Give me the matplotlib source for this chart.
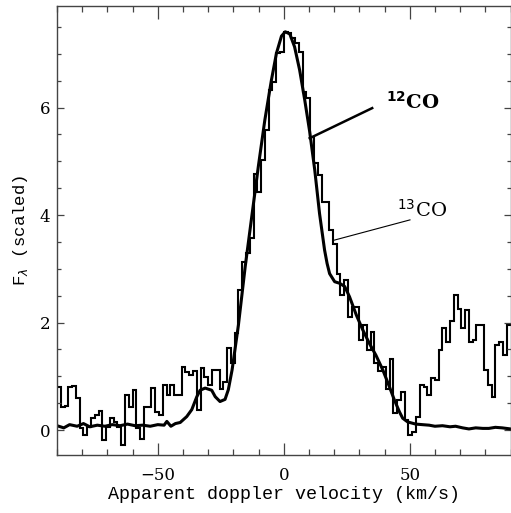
import numpy as np
import matplotlib
matplotlib.use('Agg')
import matplotlib.pyplot as plt
from matplotlib.ticker import MultipleLocator

# 13CO spectrum, histogram bins of 1.5 km/s from -90 to 90
bin_edges = np.arange(-90.0, 90.01, 1.5)
co13 = [0.80, 0.43, 0.45, 0.80, 0.82, 0.60, 0.03, -0.09, 0.06, 0.22,
        0.28, 0.35, -0.19, 0.06, 0.22, 0.15, 0.06, -0.28, 0.65, 0.43,
        0.74, 0.03, -0.16, 0.43, 0.43, 0.79, 0.34, 0.28, 0.83, 0.65,
        0.83, 0.65, 0.65, 1.17, 1.08, 1.02, 1.10, 0.37, 1.15, 0.99,
        0.83, 1.11,
        1.12, 0.77, 0.90, 1.52, 1.24, 1.80, 2.60, 3.13,
        3.29, 3.57, 4.77, 4.43, 5.02, 5.58, 6.32, 6.48, 7.01, 7.04,
        7.41, 7.38, 7.29, 7.20, 7.04, 6.29, 6.17, 5.46, 4.96, 4.74,
        4.24, 4.24, 3.72, 3.47, 2.90, 2.51, 2.80, 2.11, 2.29, 2.29,
        1.67, 1.95, 1.49, 1.83, 1.24, 1.09, 1.18, 0.77, 1.33, 0.31,
        0.56, 0.71, 0.18, -0.09, -0.03, 0.25, 0.83, 0.80, 0.65, 0.96,
        0.93, 1.49, 1.89, 1.64, 2.02, 2.51, 2.26, 1.89, 2.23, 1.64,
        1.67, 1.95, 1.95, 1.12, 0.83, 0.61, 1.58, 1.64, 1.40, 1.95]

# 12CO profile (smooth)
v12 = [-90, -87.3, -85, -82, -79.5, -77, -74, -71, -68, -65, -62, -59, -56, -53,
       -50, -47.5, -46.4, -44.8, -43, -41.1, -38.5, -36.5, -34.5, -33.2, -31.2,
       -28.6, -27.2, -25.3, -23.3, -22.0, -20.5, -18.0, -15.3, -12.7, -10.1,
       -7.5, -4.9, -2.9, -0.9, 0.6, 2.4, 4.3, 6.3, 8.3, 10.3, 12.3, 14.2, 16.2,
       17.2, 18.2, 20.2, 22.2, 24.2, 26.1, 28.8, 31.4, 34.0, 36.6, 39.3, 41.9,
       43.9, 45.9, 47.2, 49.2, 52.4, 55, 57.7, 60, 63.0, 66, 68.2, 71, 73.5,
       76.2, 79, 81.4, 84, 86.7, 90]
f12 = [0.08, 0.04, 0.10, 0.07, 0.12, 0.06, 0.09, 0.07, 0.10, 0.08, 0.11, 0.08, 0.09, 0.07,
       0.10, 0.09, 0.16, 0.07, 0.12, 0.14, 0.25, 0.38, 0.62, 0.74, 0.78,
       0.74, 0.62, 0.53, 0.57, 0.75, 1.12, 1.95, 3.04, 3.97, 4.90,
       5.77, 6.51, 7.01, 7.33, 7.41, 7.37, 7.13, 6.70, 6.15, 5.55, 4.84, 4.03, 3.35,
       3.10, 2.91, 2.76, 2.73, 2.67, 2.48, 2.14, 1.86, 1.61, 1.39, 1.12, 0.81,
       0.56, 0.34, 0.22, 0.15, 0.11, 0.10, 0.09, 0.07, 0.08, 0.06, 0.07, 0.04, 0.02,
       0.04, 0.03, 0.03, 0.05, 0.04, 0.02]

plt.rcParams['font.family'] = ['DejaVu Serif']

fig = plt.figure(figsize=(5.11, 5.13), dpi=100)
ax = fig.add_axes([57 / 511, 58 / 513, 453.5 / 511, 449 / 513])

ax.stairs(co13, bin_edges, baseline=None, color='k', lw=1.5)
ax.plot(v12, f12, color='k', lw=2.2)

# labels for the two lines
ax.plot([10.3, 35.1], [5.43, 5.99], color='k', lw=1.8)
ax.text(40.6, 5.98, r'$\mathbf{^{12}}$CO', fontsize=14, fontweight='bold', ha='left', va='baseline')
ax.plot([19.8, 50.1], [3.53, 3.91], color='k', lw=0.8)
ax.text(45.1, 3.97, r'$^{13}$CO', fontsize=14, ha='left', va='baseline')

ax.set_xlim(-90, 90)
ax.set_ylim(-0.465, 7.89)
ax.xaxis.set_major_locator(MultipleLocator(50))
ax.xaxis.set_minor_locator(MultipleLocator(10))
ax.yaxis.set_major_locator(MultipleLocator(2))
ax.yaxis.set_minor_locator(MultipleLocator(0.5))

ax.tick_params(axis='both', which='both', direction='in', top=True, right=True,
               color='#444444', width=0.9, labelsize=12)
ax.tick_params(axis='x', which='major', length=9, pad=9)
ax.tick_params(axis='x', which='minor', length=4.5)
ax.tick_params(axis='y', which='major', length=5, pad=5)
ax.tick_params(axis='y', which='minor', length=2.8)
for s in ax.spines.values():
    s.set_color('#444444')
    s.set_linewidth(1.0)

ax.set_xlabel('Apparent doppler velocity (km/s)', fontsize=13.2, family='Liberation Mono', labelpad=1)
ax.set_ylabel(r'F$_\lambda$ (scaled)', fontsize=12.5, family='Liberation Mono', labelpad=7)

fig.savefig('out.png', dpi=100)
